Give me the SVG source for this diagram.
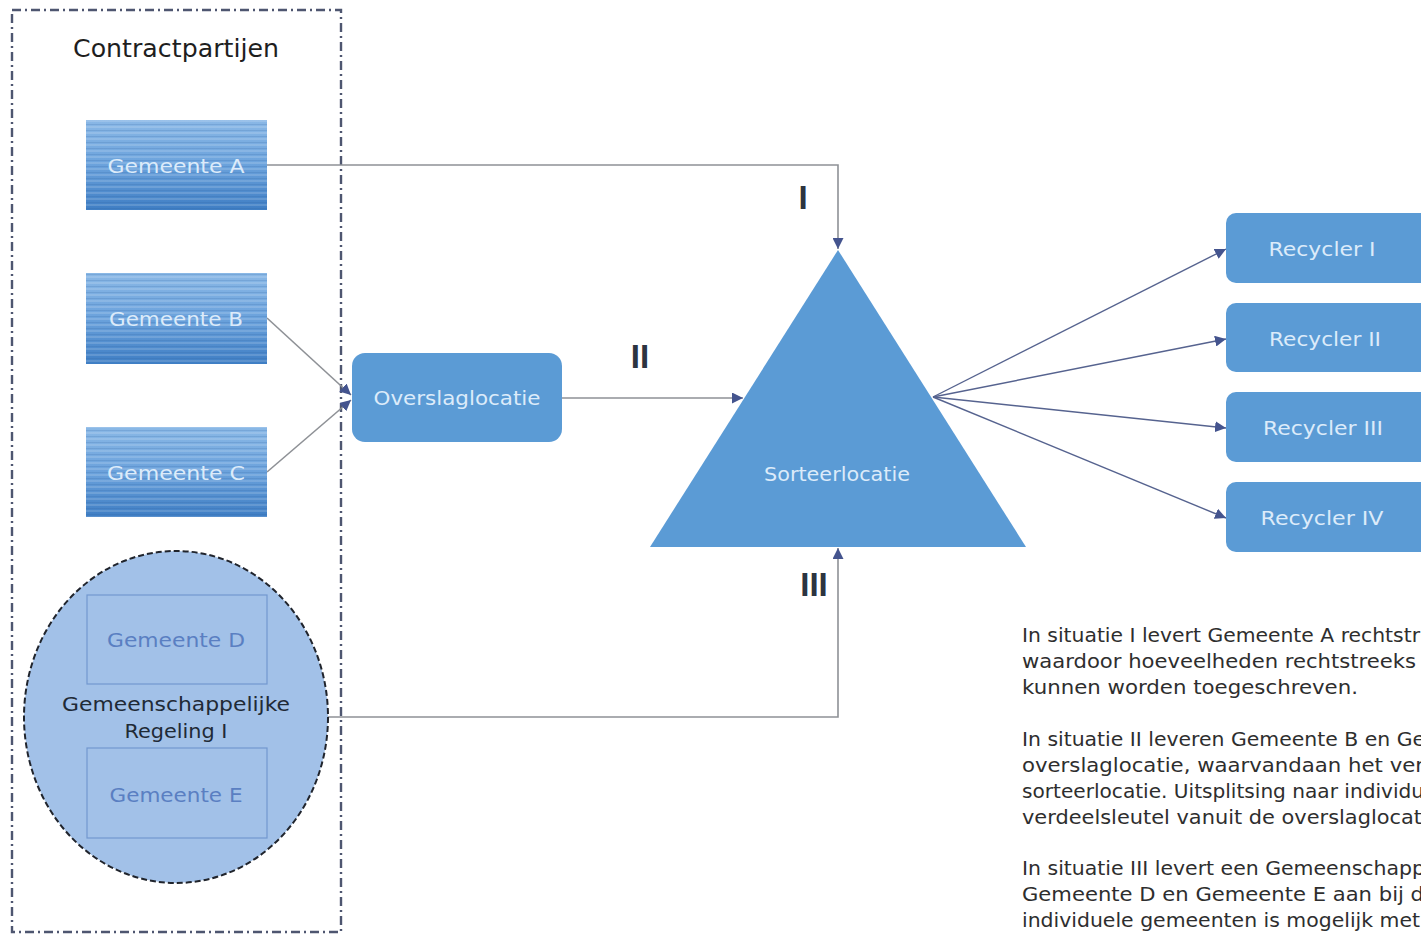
<svg xmlns="http://www.w3.org/2000/svg" width="1421" height="936" viewBox="0 0 1421 936">
<defs>
<style>
text{font-family:"DejaVu Sans","Liberation Sans",sans-serif;}
.lbl{fill:#dcebfa;font-size:20px;text-anchor:middle;}
.sub{fill:#5a7fc2;font-size:20px;text-anchor:middle;}
.dark{fill:#1f2a36;font-size:20px;text-anchor:middle;}
.roman{fill:#2c3440;font-size:33px;font-weight:bold;text-anchor:middle;font-family:"Liberation Sans","DejaVu Sans",sans-serif;}
.para{fill:#2e2e2e;font-size:20px;}
.gray{fill:none;stroke:#8e9196;stroke-width:1.6;}
.blue{fill:none;stroke:#56638f;stroke-width:1.4;}
.box{fill:#5b9bd5;}
.inner{fill:none;stroke:#7298cf;stroke-width:1.2;}
</style>
<linearGradient id="grad" x1="0" y1="0" x2="0" y2="1">
<stop offset="0" stop-color="#8ab8e6"/>
<stop offset="0.5" stop-color="#6ba2dc"/>
<stop offset="1" stop-color="#3f7ec4"/>
</linearGradient>
<pattern id="stripes" width="10" height="6" patternUnits="userSpaceOnUse">
<rect width="10" height="2" fill="#ffffff" fill-opacity="0.14"/>
<rect y="4" width="10" height="1" fill="#2d5f9c" fill-opacity="0.18"/>
</pattern>
<marker id="ah" viewBox="0 0 10 10" refX="10" refY="5" markerWidth="11" markerHeight="11" markerUnits="userSpaceOnUse" orient="auto">
<path d="M0,0 L10,5 L0,10 z" fill="#44548e"/>
</marker>
</defs>
<rect width="1421" height="936" fill="#ffffff"/>

<g id="contractpartijen">
<rect x="12" y="10" width="329" height="922" fill="none" stroke="#4e5670" stroke-width="2.4" stroke-dasharray="9,4,2,4"/>
<text x="176" y="57" style="fill:#1e1e1e;font-size:25px;text-anchor:middle;" textLength="206" lengthAdjust="spacingAndGlyphs">Contractpartijen</text>
</g>

<g id="connectors">
<path class="gray" d="M267,165 H838 V249" marker-end="url(#ah)"/>
<path class="gray" d="M267,318 L351,395" marker-end="url(#ah)"/>
<path class="gray" d="M267,472 L351,400" marker-end="url(#ah)"/>
<path class="gray" d="M562,398 L743,398" marker-end="url(#ah)"/>
<path class="gray" d="M328,717 H838 V548" marker-end="url(#ah)"/>
<path class="blue" d="M933,397 L1226,249" marker-end="url(#ah)"/>
<path class="blue" d="M933,397 L1226,339" marker-end="url(#ah)"/>
<path class="blue" d="M933,397 L1226,428" marker-end="url(#ah)"/>
<path class="blue" d="M933,397 L1226,518" marker-end="url(#ah)"/>
<text class="roman" x="803" y="209">I</text>
<text class="roman" x="640" y="368">II</text>
<text class="roman" x="814" y="596">III</text>
</g>

<g id="gemeente-a">
<rect x="86" y="120" width="181" height="90" fill="url(#grad)"/>
<rect x="86" y="120" width="181" height="90" fill="url(#stripes)"/>
<text class="lbl" x="176" y="173" textLength="137" lengthAdjust="spacingAndGlyphs">Gemeente A</text>
</g>
<g id="gemeente-b">
<rect x="86" y="273" width="181" height="91" fill="url(#grad)"/>
<rect x="86" y="273" width="181" height="91" fill="url(#stripes)"/>
<text class="lbl" x="176" y="326" textLength="134" lengthAdjust="spacingAndGlyphs">Gemeente B</text>
</g>
<g id="gemeente-c">
<rect x="86" y="427" width="181" height="90" fill="url(#grad)"/>
<rect x="86" y="427" width="181" height="90" fill="url(#stripes)"/>
<text class="lbl" x="176" y="480" textLength="138" lengthAdjust="spacingAndGlyphs">Gemeente C</text>
</g>

<g id="gemeenschappelijke-regeling">
<ellipse cx="176" cy="717" rx="152" ry="166" fill="#a2c1e8" stroke="#20242c" stroke-width="2" stroke-dasharray="6,3"/>
<text class="dark" x="176" y="711" textLength="228" lengthAdjust="spacingAndGlyphs">Gemeenschappelijke</text>
<text class="dark" x="176" y="738" textLength="103" lengthAdjust="spacingAndGlyphs">Regeling I</text>
</g>
<g id="gemeente-d">
<rect class="inner" x="87" y="595" width="180" height="89"/>
<text class="sub" x="176" y="647" textLength="138" lengthAdjust="spacingAndGlyphs">Gemeente D</text>
</g>
<g id="gemeente-e">
<rect class="inner" x="87" y="748" width="180" height="90"/>
<text class="sub" x="176" y="802" textLength="133" lengthAdjust="spacingAndGlyphs">Gemeente E</text>
</g>

<g id="overslaglocatie">
<rect class="box" x="352" y="353" width="210" height="89" rx="13"/>
<text class="lbl" x="457" y="405" textLength="167" lengthAdjust="spacingAndGlyphs">Overslaglocatie</text>
</g>

<g id="sorteerlocatie">
<polygon class="box" points="838,250 1026,547 650,547"/>
<text class="lbl" x="837" y="481" textLength="146" lengthAdjust="spacingAndGlyphs">Sorteerlocatie</text>
</g>

<g id="recycler-1">
<rect class="box" x="1226" y="213" width="210" height="70" rx="10"/>
<text class="lbl" x="1322" y="256" textLength="107" lengthAdjust="spacingAndGlyphs">Recycler I</text>
</g>
<g id="recycler-2">
<rect class="box" x="1226" y="303" width="210" height="69" rx="10"/>
<text class="lbl" x="1325" y="346" textLength="112" lengthAdjust="spacingAndGlyphs">Recycler II</text>
</g>
<g id="recycler-3">
<rect class="box" x="1226" y="392" width="210" height="70" rx="10"/>
<text class="lbl" x="1323" y="435" textLength="120" lengthAdjust="spacingAndGlyphs">Recycler III</text>
</g>
<g id="recycler-4">
<rect class="box" x="1226" y="482" width="210" height="70" rx="10"/>
<text class="lbl" x="1322" y="525" textLength="123" lengthAdjust="spacingAndGlyphs">Recycler IV</text>
</g>

<g id="toelichting">
<text class="para" x="1022" y="642" textLength="398" lengthAdjust="spacingAndGlyphs">In situatie I levert Gemeente A rechtstr</text>
<text class="para" x="1022" y="668" textLength="394" lengthAdjust="spacingAndGlyphs">waardoor hoeveelheden rechtstreeks</text>
<text class="para" x="1022" y="694" textLength="336" lengthAdjust="spacingAndGlyphs">kunnen worden toegeschreven.</text>
<text class="para" x="1022" y="746" textLength="403" lengthAdjust="spacingAndGlyphs">In situatie II leveren Gemeente B en Ge</text>
<text class="para" x="1022" y="772" textLength="402" lengthAdjust="spacingAndGlyphs">overslaglocatie, waarvandaan het ver</text>
<text class="para" x="1022" y="798" textLength="402" lengthAdjust="spacingAndGlyphs">sorteerlocatie. Uitsplitsing naar individu</text>
<text class="para" x="1022" y="824" textLength="400" lengthAdjust="spacingAndGlyphs">verdeelsleutel vanuit de overslaglocat</text>
<text class="para" x="1022" y="875" textLength="403" lengthAdjust="spacingAndGlyphs">In situatie III levert een Gemeenschapp</text>
<text class="para" x="1022" y="901" textLength="402" lengthAdjust="spacingAndGlyphs">Gemeente D en Gemeente E aan bij d</text>
<text class="para" x="1022" y="927" textLength="398" lengthAdjust="spacingAndGlyphs">individuele gemeenten is mogelijk met</text>
</g>
</svg>
